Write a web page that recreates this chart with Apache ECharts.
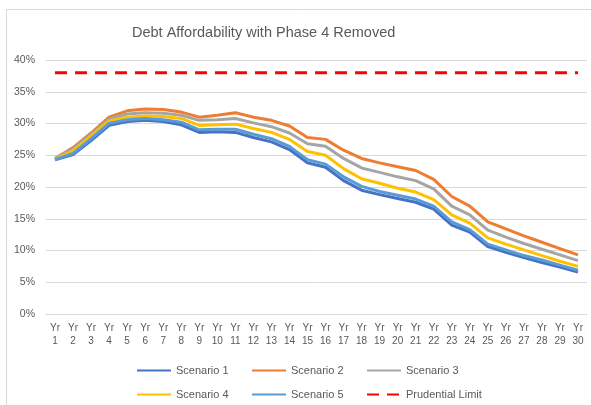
<!DOCTYPE html>
<html>
<head>
<meta charset="utf-8">
<script src="https://cdn.jsdelivr.net/npm/echarts@6/dist/echarts.min.js"></script>
<style>
  html, body { margin: 0; padding: 0; background: #fff; }
  #chart { width: 591px; height: 405px; }
</style>
</head>
<body>
<div id="chart"></div>
<script>
// years on the x axis
const years = [];
for (let i = 1; i <= 30; i++) years.push('Yr\n' + i);

// values in %
const scenario1 = [24.3, 25.1, 27.3, 29.7, 30.3, 30.5, 30.3, 29.8, 28.6, 28.7, 28.6, 27.8, 27.1, 25.9, 23.8, 23.1, 21.0, 19.5, 18.8, 18.2, 17.6, 16.5, 14.0, 12.9, 10.6, 9.7, 8.9, 8.1, 7.4, 6.6];
const scenario2 = [24.5, 26.2, 28.5, 31.0, 32.0, 32.3, 32.2, 31.8, 31.0, 31.3, 31.7, 31.0, 30.5, 29.6, 27.8, 27.5, 25.8, 24.5, 23.8, 23.2, 22.6, 21.2, 18.5, 17.0, 14.5, 13.4, 12.3, 11.3, 10.3, 9.3];
const scenario3 = [24.5, 26.0, 28.3, 30.7, 31.5, 31.7, 31.6, 31.3, 30.5, 30.6, 30.8, 30.1, 29.5, 28.5, 26.8, 26.4, 24.5, 23.0, 22.3, 21.6, 21.0, 19.7, 17.0, 15.6, 13.2, 12.1, 11.1, 10.2, 9.3, 8.4];
const scenario4 = [24.4, 25.7, 28.0, 30.4, 31.0, 31.2, 31.1, 30.8, 29.7, 29.8, 29.9, 29.2, 28.6, 27.5, 25.6, 25.0, 22.9, 21.3, 20.6, 19.8, 19.2, 18.0, 15.6, 14.3, 12.0, 11.0, 10.1, 9.2, 8.3, 7.5];
const scenario5 = [24.3, 25.3, 27.6, 30.0, 30.6, 30.8, 30.6, 30.2, 29.0, 29.1, 29.1, 28.3, 27.6, 26.4, 24.3, 23.6, 21.6, 20.1, 19.3, 18.7, 18.1, 17.0, 14.5, 13.3, 11.0, 10.1, 9.2, 8.5, 7.7, 6.9];
const prudentialLimit = years.map(() => 38);

const font = 'Liberation Sans';
const grey = '#595959';

let chart = echarts.init(document.getElementById('chart'));

function lineSeries (name, data, color) {
  return {
    name: name,
    type: 'line',
    data: data,
    symbol: 'none',
    color: color,
    lineStyle: { width: 3, color: color },
    emphasis: { disabled: true }
  };
}

// one legend per entry so the columns line up like the original
function legendItem (name, left, top) {
  return {
    data: [name],
    left: left,
    top: top,
    padding: 0,
    itemWidth: 34,
    itemHeight: 14,
    itemStyle: { opacity: 0 },
    textStyle: { color: grey, fontFamily: font, fontSize: 11 }
  };
}

let option = {
  animation: false,
  title: {
    text: 'Debt Affordability with Phase 4 Removed',
    left: 132,
    top: 25,
    padding: 0,
    textStyle: { color: grey, fontFamily: font, fontSize: 14.5, fontWeight: 'normal' }
  },
  graphic: [{
    type: 'rect',
    shape: { x: 6.5, y: 9.5, width: 620, height: 420 },
    style: { fill: 'none', stroke: '#d9d9d9', lineWidth: 1 },
    silent: true
  }],
  legend: [
    legendItem('Scenario 1', 136, 365),
    legendItem('Scenario 2', 251, 365),
    legendItem('Scenario 3', 366, 365),
    legendItem('Scenario 4', 136, 389),
    legendItem('Scenario 5', 251, 389),
    legendItem('Prudential Limit', 366, 389)
  ],
  grid: { left: 46, right: 4, top: 60, bottom: 91 },
  xAxis: {
    type: 'category',
    data: years,
    boundaryGap: true,
    axisLine: { lineStyle: { color: '#d9d9d9', width: 1 } },
    axisTick: { show: false },
    axisLabel: { color: grey, fontFamily: font, fontSize: 10, lineHeight: 13, interval: 0, margin: 8 }
  },
  yAxis: {
    type: 'value',
    min: 0,
    max: 40,
    interval: 5,
    axisLine: { show: false },
    axisTick: { show: false },
    splitLine: { lineStyle: { color: '#d9d9d9', width: 1 } },
    axisLabel: { formatter: '{value}%', color: grey, fontFamily: font, fontSize: 10.5, margin: 11 }
  },
  series: [
    lineSeries('Scenario 1', scenario1, '#4472c4'),
    lineSeries('Scenario 2', scenario2, '#ed7d31'),
    lineSeries('Scenario 3', scenario3, '#a5a5a5'),
    lineSeries('Scenario 4', scenario4, '#ffc000'),
    lineSeries('Scenario 5', scenario5, '#5b9bd5'),
    {
      name: 'Prudential Limit',
      type: 'line',
      data: prudentialLimit,
      symbol: 'none',
      color: '#ff0000',
      lineStyle: { width: 3, color: '#ff0000', type: [12, 8] },
      emphasis: { disabled: true }
    }
  ]
};

chart.setOption(option);
window.addEventListener('resize', () => {
  chart.resize();
});
</script>
</body>
</html>
